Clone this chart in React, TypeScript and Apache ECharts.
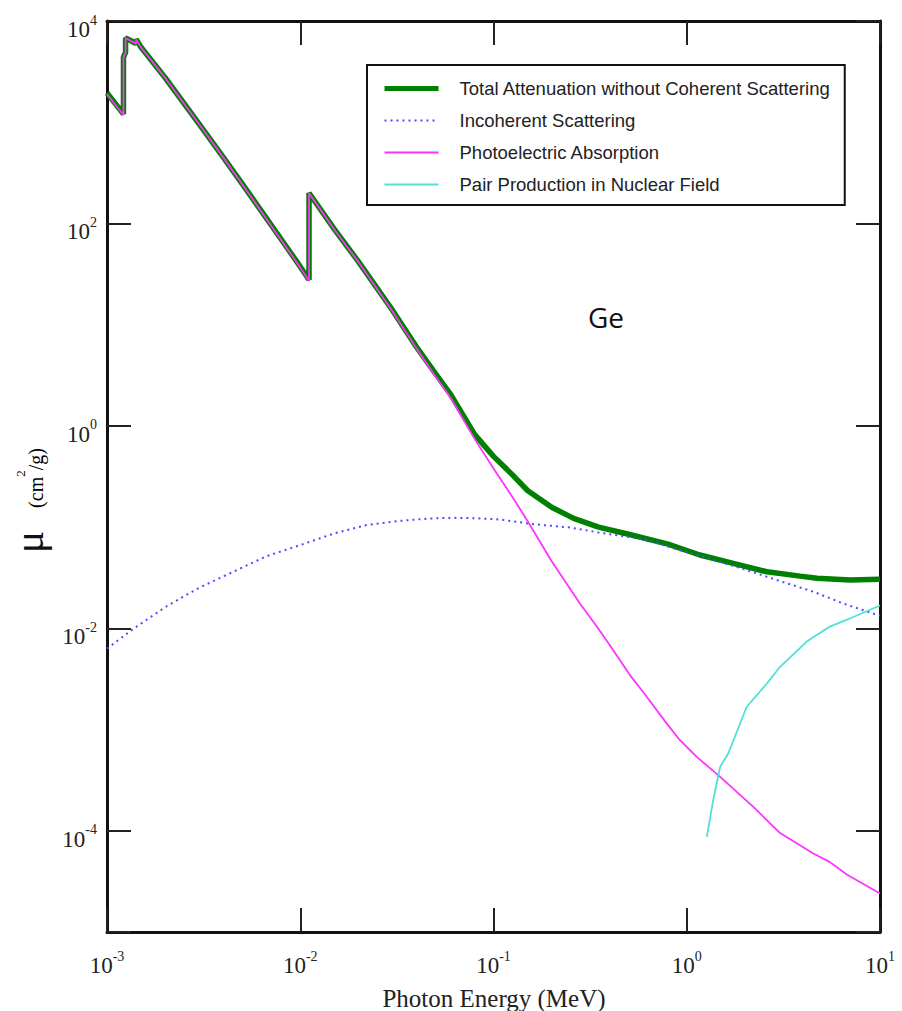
import React, { useEffect, useRef } from 'react';
import * as echarts from 'echarts';

// Photon energy (MeV) and mass attenuation coefficients (cm^2/g) for Ge
const totalEnergy = [0.001, 0.0012167, 0.0012167, 0.0012478, 0.0012478, 0.0014143, 0.0014143, 0.0015, 0.002, 0.003, 0.004, 0.005, 0.006, 0.008, 0.01, 0.0111031, 0.0111031, 0.015, 0.02, 0.03, 0.04, 0.05, 0.06, 0.08, 0.1, 0.125, 0.15, 0.2, 0.26, 0.35, 0.5, 0.8, 1.17, 1.74, 2.6, 3.86, 4.72, 7, 10];
const totalMu = [1945, 1205, 4400, 4900, 6800, 6000, 6600, 5500, 2750, 960, 450, 247, 151, 69, 37.4, 27.8, 200, 88, 42, 13.9, 6.0, 3.3, 2.05, 0.82, 0.50, 0.33, 0.23, 0.157, 0.122, 0.100, 0.085, 0.068, 0.053, 0.0438, 0.0362, 0.0328, 0.0313, 0.030, 0.0305];

const incoherentEnergy = [0.001, 0.00136, 0.002, 0.003, 0.0045, 0.0067, 0.01, 0.015, 0.022, 0.033, 0.045, 0.06, 0.08, 0.108, 0.16, 0.25, 0.356, 0.6, 1.0, 1.17, 2.05, 3, 4.52, 6.5, 10];
const incoherentMu = [0.0063, 0.0098, 0.0162, 0.0252, 0.0362, 0.0517, 0.0664, 0.0867, 0.1047, 0.1154, 0.121, 0.1236, 0.1225, 0.119, 0.107, 0.099, 0.0879, 0.076, 0.0565, 0.052, 0.0376, 0.0295, 0.023, 0.0175, 0.0133];

const photoEnergy = [0.001, 0.0012167, 0.0012167, 0.0012478, 0.0012478, 0.0014143, 0.0014143, 0.0015, 0.002, 0.003, 0.004, 0.005, 0.006, 0.008, 0.01, 0.0111031, 0.0111031, 0.015, 0.02, 0.03, 0.04, 0.05, 0.06, 0.08, 0.1, 0.125, 0.15, 0.2, 0.28, 0.344, 0.4, 0.508, 0.6, 0.787, 0.922, 1.126, 1.49, 2.21, 3.04, 4.52, 5.51, 6.73, 10];
const photoMu = [1890, 1180, 4380, 4880, 6780, 5980, 6580, 5480, 2740, 955, 447, 245, 149, 68, 36.6, 27.0, 199, 87, 41.5, 13.6, 5.8, 3.1, 1.9, 0.74, 0.38, 0.2, 0.115, 0.046, 0.0176, 0.0103, 0.0068, 0.00345, 0.0023, 0.00115, 0.000785, 0.000537, 0.000341, 0.000172, 0.000095, 0.0000597, 0.000049, 0.000037, 0.000024];

const pairEnergy = [1.27, 1.37, 1.49, 1.64, 2.04, 2.6, 3.04, 4.18, 5.5, 6.7, 10];
const pairMu = [0.000087, 0.0002, 0.00043, 0.00058, 0.00167, 0.00285, 0.00417, 0.0074, 0.0104, 0.0121, 0.0168];

const seriesNames = [
  'Total Attenuation without Coherent Scattering',
  'Incoherent Scattering',
  'Photoelectric Absorption',
  'Pair Production in Nuclear Field',
];

const zip = (xs: number[], ys: number[]) => xs.map((x, i) => [x, ys[i]]);

export default function App() {
  const ref = useRef<HTMLDivElement>(null);
  useEffect(() => {
    const chart = echarts.init(ref.current!, null, { renderer: 'svg' });
    const serif = "'Liberation Serif', 'DejaVu Serif', serif";
    const sans = "'Liberation Sans', Arial, sans-serif";
    const exp10 = (v: number) => Math.round(Math.log10(v));
    const supRich = {
      b: { fontFamily: serif, fontSize: 23, color: '#222', lineHeight: 28, verticalAlign: 'bottom' },
      s: { fontFamily: serif, fontSize: 14, color: '#222', lineHeight: 14, verticalAlign: 'top' },
    };
    const tick = { inside: true, length: 24, lineStyle: { color: '#222', width: 2 } };
    const axisLine = { show: true, lineStyle: { color: '#111', width: 3 } };

    chart.setOption({
      animation: false,
      backgroundColor: '#fff',
      grid: { left: 107, right: 22, top: 21, bottom: 79, containLabel: false },
      xAxis: [
        {
          type: 'log', logBase: 10, min: 0.001, max: 10, position: 'bottom',
          axisLine, axisTick: tick, splitLine: { show: false },
          axisLabel: {
            margin: 17,
            formatter: (v: number) => `{b|10}{s|${exp10(v)}}`,
            rich: supRich,
          },
        },
        {
          type: 'log', logBase: 10, min: 0.001, max: 10, position: 'top',
          axisLine, axisTick: tick, splitLine: { show: false }, axisLabel: { show: false },
        },
      ],
      yAxis: [
        {
          type: 'log', logBase: 100, min: 1e-5, max: 1e4, position: 'left',
          axisLine, axisTick: tick, splitLine: { show: false },
          axisLabel: {
            margin: 10,
            padding: [12, 0, 0, 0],
            formatter: (v: number) => {
              const e = exp10(v);
              return e % 2 === 0 ? `{b|10}{s|${e}}` : '';
            },
            rich: supRich,
          },
        },
        {
          type: 'log', logBase: 100, min: 1e-5, max: 1e4, position: 'right',
          axisLine, axisTick: tick, splitLine: { show: false }, axisLabel: { show: false },
        },
      ],
      legend: {
        orient: 'vertical', left: 367, top: 65,
        padding: [14, 14, 11, 15],
        itemWidth: 54, itemHeight: 14, itemGap: 13,
        borderColor: '#111', borderWidth: 2, backgroundColor: '#fff',
        itemStyle: { opacity: 0 },
        textStyle: { fontFamily: sans, fontSize: 18.5, lineHeight: 16, color: '#222', padding: [0, 0, 0, 16] },
        data: [
          { name: seriesNames[0], lineStyle: { width: 5 } },
          { name: seriesNames[1], lineStyle: { width: 2 } },
          { name: seriesNames[2], lineStyle: { width: 2 } },
          { name: seriesNames[3], lineStyle: { width: 2 } },
        ],
      },
      series: [
        {
          name: seriesNames[0], type: 'line', showSymbol: false, symbol: 'none',
          data: zip(totalEnergy, totalMu),
          lineStyle: { color: '#008000', width: 5.5 }, itemStyle: { color: '#008000' },
        },
        {
          name: seriesNames[1], type: 'line', showSymbol: false, symbol: 'none',
          data: zip(incoherentEnergy, incoherentMu),
          lineStyle: { color: '#4b4bff', width: 2, type: [2, 4] }, itemStyle: { color: '#4b4bff' },
        },
        {
          name: seriesNames[2], type: 'line', showSymbol: false, symbol: 'none',
          data: zip(photoEnergy, photoMu),
          lineStyle: { color: '#ff33ff', width: 1.8 }, itemStyle: { color: '#ff33ff' },
        },
        {
          name: seriesNames[3], type: 'line', showSymbol: false, symbol: 'none',
          data: zip(pairEnergy, pairMu),
          lineStyle: { color: '#4fe0d6', width: 1.8 }, itemStyle: { color: '#4fe0d6' },
        },
      ],
      graphic: [
        {
          type: 'text', x: 29, y: 542, rotation: Math.PI / 2,
          style: { text: 'μ', fontFamily: serif, fontSize: 42, fill: '#111', align: 'center', verticalAlign: 'middle' },
        },
        {
          type: 'text', x: 30, y: 478, rotation: Math.PI / 2,
          style: {
            text: '{u|(cm}{s|2}{u|/g)}',
            align: 'center', verticalAlign: 'middle',
            rich: {
              u: { fontFamily: serif, fontSize: 20, color: '#222', lineHeight: 32, verticalAlign: 'bottom' },
              s: { fontFamily: serif, fontSize: 13, color: '#222', lineHeight: 14, verticalAlign: 'top' },
            },
          },
        },
        {
          type: 'text', x: 494, y: 998,
          style: { text: 'Photon Energy (MeV)', fontFamily: serif, fontSize: 25, fill: '#222', align: 'center', verticalAlign: 'middle' },
        },
        {
          type: 'text', x: 606, y: 317,
          style: { text: 'Ge', fontFamily: "'Open Sans', 'Noto Sans', sans-serif", fontSize: 28, fill: '#111', align: 'center', verticalAlign: 'middle' },
        },
      ],
    });
    return () => chart.dispose();
  }, []);
  return <div ref={ref} style={{ position: 'absolute', left: 0, top: 0, width: 902, height: 1011 }} />;
}
